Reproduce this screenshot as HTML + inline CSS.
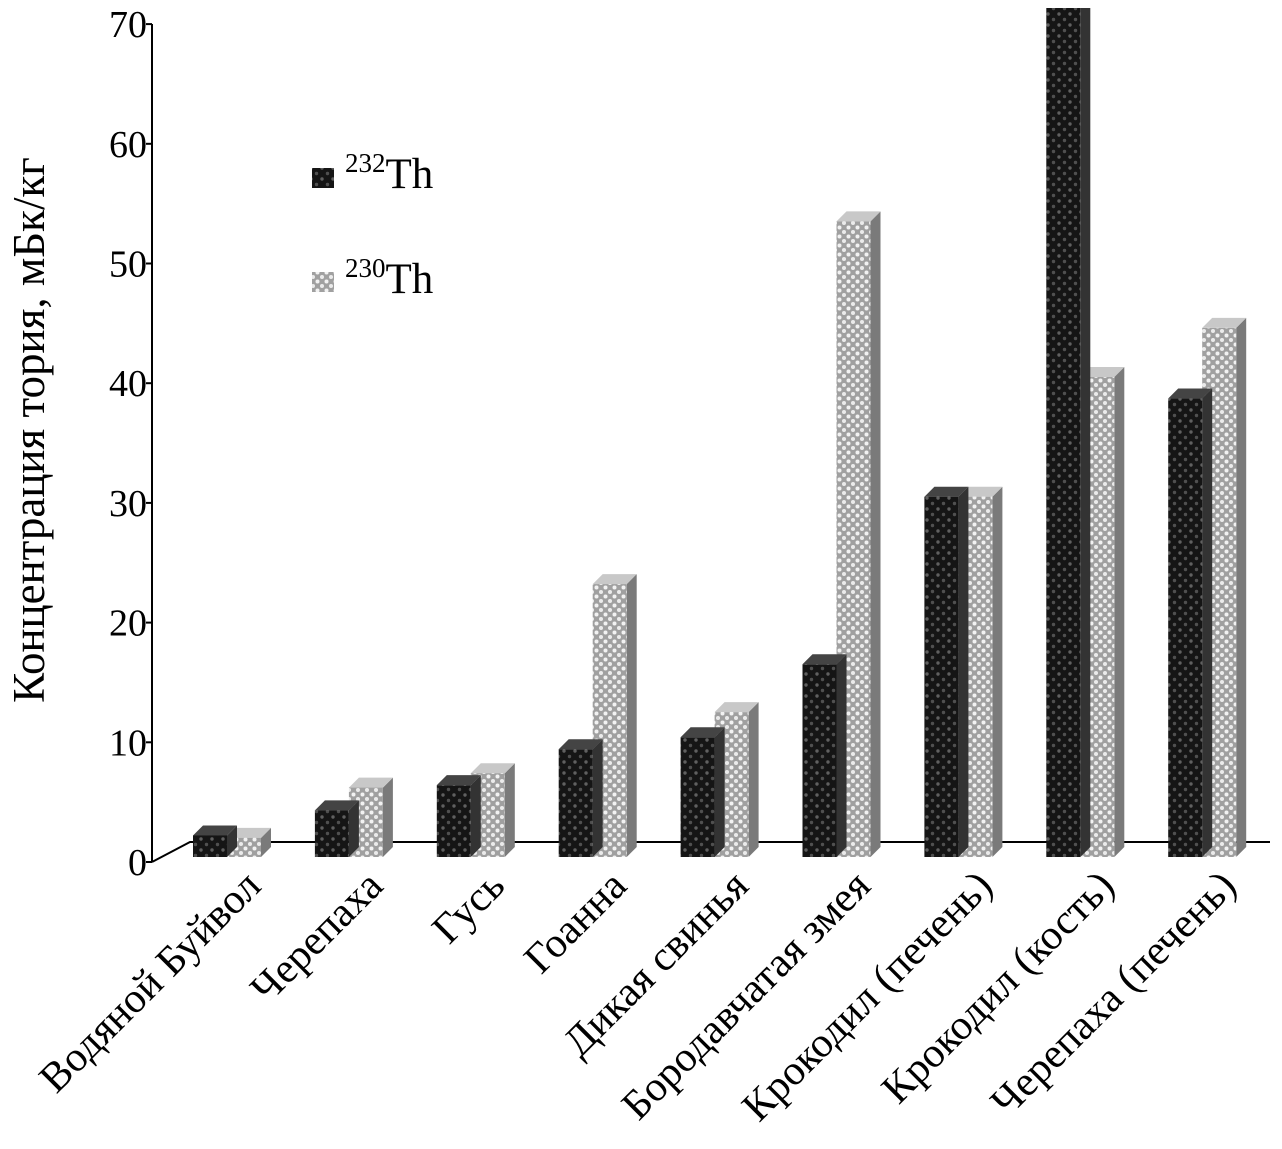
<!DOCTYPE html>
<html><head><meta charset="utf-8"><style>
body{margin:0;background:#fff}
svg{display:block;font-family:"Liberation Serif","DejaVu Serif",serif}
</style></head><body>
<svg id="chart" width="1282" height="1149" viewBox="0 0 1282 1149">
<defs>
<pattern id="pd" width="11" height="11" patternUnits="userSpaceOnUse"><rect width="11" height="11" fill="#151515"/><circle cx="3" cy="3" r="1.7" fill="#606060"/><circle cx="8.5" cy="8.5" r="1.7" fill="#505050"/></pattern>
<pattern id="pl" width="9" height="9" patternUnits="userSpaceOnUse"><rect width="9" height="9" fill="#a0a0a0"/><circle cx="2.5" cy="2.5" r="2" fill="#f2f2f2"/><circle cx="7" cy="7" r="2" fill="#ebebeb"/></pattern>
<clipPath id="clip"><rect x="0" y="8" width="1282" height="1141"/></clipPath>
</defs>
<g id="axes"></g>
<g id="bars" clip-path="url(#clip)"></g>
<g id="labels"></g>
<text transform="translate(44,430) rotate(-90)" text-anchor="middle" font-size="45">Концентрация тория, мБк/кг</text>
<g>
<g><rect x="312" y="168" width="22" height="20" fill="url(#pd)"/><text x="345" y="188" font-size="43"><tspan font-size="27" dy="-16">232</tspan><tspan dy="16">Th</tspan></text></g>
<g><rect x="312" y="272" width="22" height="20" fill="url(#pl)"/><text x="345" y="293" font-size="43"><tspan font-size="27" dy="-16">230</tspan><tspan dy="16">Th</tspan></text></g>
</g>
</svg>
<script>
const categories=["Водяной Буйвол","Черепаха","Гусь","Гоанна","Дикая свинья","Бородавчатая змея","Крокодил (печень)","Крокодил (кость)","Черепаха (печень)"];
const th232=[1.8,3.9,6.0,9.0,10.0,16.1,30.1,71.5,38.3];
const th230=[1.6,5.8,7.0,22.8,12.1,53.1,30.1,40.1,44.2];
const yTicks=[0,10,20,30,40,50,60,70];
const NS="http://www.w3.org/2000/svg";
function el(t,a,p){const e=document.createElementNS(NS,t);for(const k in a)e.setAttribute(k,a[k]);p.appendChild(e);return e;}
const yScale=v=>862-v*11.97;
const barY=v=>857-v*11.97;
const groupX=i=>193+i*121.9;
const BW=34,D=10;
const axes=document.getElementById('axes');
let ax=el('line',{x1:152,y1:24,x2:152,y2:862,stroke:'#000','stroke-width':2},axes);

let fl=el('polyline',{points:'152,862 190,842 1270,842',fill:'none',stroke:'#000','stroke-width':2},axes);

yTicks.forEach(v=>{
  const t=el('text',{x:147,y:yScale(v)+13,'text-anchor':'end','font-size':38},axes);
  t.textContent=v;
  
  const tk=el('line',{x1:146,y1:yScale(v),x2:152,y2:yScale(v),stroke:'#000','stroke-width':2},axes);
  
});
const bars=document.getElementById('bars');
function bar(x,v,fill,side,top,name){
  const g=el('g',{},bars);
  
  const y=barY(v),b=857;
  el('polygon',{points:`${x+BW},${y} ${x+BW+D},${y-D} ${x+BW+D},${b-D} ${x+BW},${b}`,fill:side},g);
  el('polygon',{points:`${x},${y} ${x+D},${y-D} ${x+BW+D},${y-D} ${x+BW},${y}`,fill:top},g);
  el('rect',{x:x,y:y,width:BW,height:b-y,fill:fill},g);
}
categories.forEach((c,i)=>{
  const x=groupX(i);
  bar(x+BW,th230[i],'url(#pl)','#7a7a7a','#c8c8c8','bar-230th');
  bar(x,th232[i],'url(#pd)','#333','#444','bar-232th');
});
const lab=document.getElementById('labels');
categories.forEach((c,i)=>{
  const ax=groupX(i)+70,ay=888;
  const t=el('text',{transform:`translate(${ax},${ay}) rotate(-45)`,'text-anchor':'end','font-size':42},lab);
  t.textContent=c;
  
});
</script>
</body></html>
